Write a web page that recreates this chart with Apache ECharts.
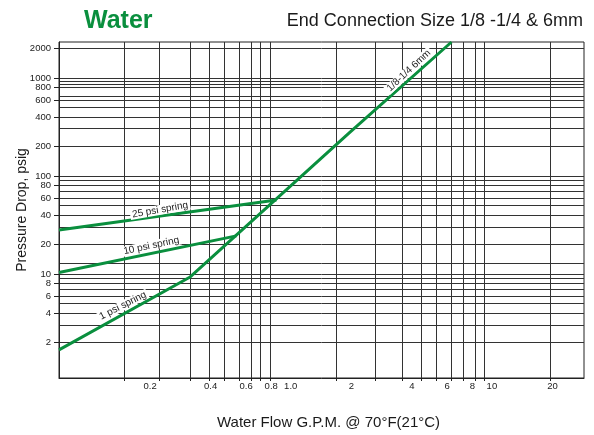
<!DOCTYPE html>
<html><head><meta charset="utf-8">
<script src="https://cdn.jsdelivr.net/npm/echarts@6/dist/echarts.min.js"></script>
<style>html,body{margin:0;padding:0;background:#fff}#c{width:594px;height:435px}</style>
</head><body><div id="c"></div>
<script>
// ---- data ----
const flow1psi = [0.0705, 0.3146, 1.966, 6.30];
const drop1psi = [1.69, 9.3, 280, 2340];
const flow10psi = [0.0705, 0.537];
const drop10psi = [10.4, 24.6];
const flow25psi = [0.0705, 0.849];
const drop25psi = [28.2, 57.3];

const xTickValues = [0.2, 0.4, 0.6, 0.8, 1, 2, 4, 6, 8, 10, 20];
const xTickLabels = ['0.2', '0.4', '0.6', '0.8', '1.0', '2', '4', '6', '8', '10', '20'];
const xGridValues = [0.149, 0.221, 0.315, 0.392, 0.466, 0.558, 0.637, 0.709, 0.795, 1.69, 2.62, 3.58, 4.46, 5.31, 6.30, 7.20, 8.23, 9.16, 19.4];

const yTickValues = [2, 4, 6, 8, 10, 20, 40, 60, 80, 100, 200, 400, 600, 800, 1000, 2000];
const yTickLabels = ['2', '4', '6', '8', '10', '20', '40', '60', '80', '100', '200', '400', '600', '800', '1000', '2000'];
const yGridValues = [2, 3, 4, 5, 6, 7, 8, 9, 10, 13, 20, 30, 40, 50, 60, 70, 80, 90, 100, 200, 310, 400, 500, 600, 660, 800, 860, 920, 1000, 2000];

const annotations = [
  { text: '25 psi spring', at: [0.2243, 45.3], rotate: 10 },
  { text: '10 psi spring', at: [0.2028, 19.5], rotate: 12 },
  { text: '1 psi spring', at: [0.1465, 4.78], rotate: 27 },
  { text: '1/8-1/4 6mm', at: [3.864, 1195], rotate: 43 }
];

// ---- chart ----
const GREEN = '#0a8f3e';
const FONT = '"Liberation Sans", Arial, Helvetica, sans-serif';
const X_MIN = 0.0705, X_MAX = 28.7, Y_MIN = 0.873, Y_MAX = 2340;

function zip(a, b) { return a.map((v, i) => [v, b[i]]); }
function nearestLabel(v, vals, labels) {
  let best = 0, bd = Infinity;
  vals.forEach((t, i) => { const d = Math.abs(Math.log(v / t)); if (d < bd) { bd = d; best = i; } });
  return labels[best];
}

const chart = echarts.init(document.getElementById('c'), null, { renderer: 'canvas' });
const lineStyle = { color: GREEN, width: 3 };

chart.setOption({
  animation: false,
  backgroundColor: '#fff',
  title: [
    { text: 'Water', left: 84, top: 9, padding: 0,
      textStyle: { fontFamily: FONT, fontSize: 25, fontWeight: 'bold', color: GREEN } },
    { text: 'End Connection Size 1/8 -1/4 & 6mm', right: 11, top: 12, padding: 0,
      textStyle: { fontFamily: FONT, fontSize: 18, fontWeight: 'normal', color: '#1a1a1a' } }
  ],
  grid: { left: 59, right: 10, top: 42, bottom: 56, show: true, borderColor: '#222', borderWidth: 1, containLabel: false },
  xAxis: {
    type: 'log', min: X_MIN, max: X_MAX,
    name: 'Water Flow G.P.M. @ 70°F(21°C)', nameLocation: 'middle', nameGap: 37,
    nameTextStyle: { fontFamily: FONT, fontSize: 15, color: '#1a1a1a', padding: [0, 0, 0, 14] },
    axisLine: { show: true, lineStyle: { color: '#222', width: 1 } },
    axisTick: { show: true, length: 3, inside: false, customValues: xGridValues, lineStyle: { color: '#222' } },
    axisLabel: { customValues: xTickValues, margin: 3, fontFamily: FONT, fontSize: 9.5, color: '#222',
      formatter: v => nearestLabel(v, xTickValues, xTickLabels) },
    splitLine: { show: true, lineStyle: { color: '#333', width: 1 } },
    minorTick: { show: false }, minorSplitLine: { show: false }
  },
  yAxis: [
    {
      type: 'log', min: Y_MIN, max: Y_MAX, position: 'left',
      name: 'Pressure Drop, psig', nameLocation: 'middle', nameGap: 30, nameRotate: 90,
      nameTextStyle: { fontFamily: FONT, fontSize: 14, color: '#1a1a1a' },
      axisLine: { show: true, lineStyle: { color: '#222', width: 1 } },
      axisTick: { show: false, customValues: yGridValues },
      axisLabel: { show: false },
      splitLine: { show: true, lineStyle: { color: '#333', width: 1 } }
    },
    {
      type: 'log', min: Y_MIN, max: Y_MAX, position: 'left',
      axisLine: { show: false },
      axisTick: { show: true, length: 5, customValues: yTickValues, lineStyle: { color: '#222' } },
      axisLabel: { customValues: yTickValues, margin: 8, fontFamily: FONT, fontSize: 9.5, color: '#222',
        formatter: v => nearestLabel(v, yTickValues, yTickLabels) },
      splitLine: { show: false }
    }
  ],
  series: [
    { name: '25 psi spring', type: 'line', data: zip(flow25psi, drop25psi), symbol: 'none', lineStyle, z: 3 },
    { name: '10 psi spring', type: 'line', data: zip(flow10psi, drop10psi), symbol: 'none', lineStyle, z: 3 },
    { name: '1 psi spring', type: 'line', data: zip(flow1psi, drop1psi), symbol: 'none', lineStyle, z: 3 },
    {
      name: 'labels', type: 'line', data: [], symbol: 'none', z: 4,
      markPoint: {
        symbol: 'circle', symbolSize: 0, animation: false,
        data: annotations.map(a => ({
          coord: a.at, value: a.text,
          label: { show: true, position: 'inside', formatter: a.text, rotate: a.rotate,
            fontFamily: FONT, fontSize: 10, color: '#222', backgroundColor: '#fff', padding: [0, 2] }
        }))
      }
    }
  ]
});
</script></body></html>
